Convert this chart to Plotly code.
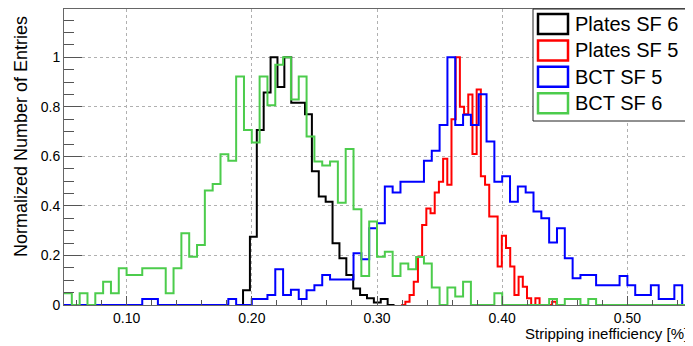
import numpy as np
import plotly.graph_objects as go

# x axis: stripping inefficiency [%], y: normalized entries
# each histogram: first bin low edge, bin width, normalized bin contents
plates_sf6_start = 0.1875
plates_sf6_width = 0.0055
plates_sf6 = [0, 0.06, 0.276, 0.707, 0.858, 1.0, 0.88, 1.0, 0.817, 0.817, 0.77,
              0.54, 0.438, 0.417, 0.249, 0.189, 0.121, 0.067, 0.04, 0.027, 0.01,
              0.024, 0]

plates_sf5_start = 0.3193
plates_sf5_width = 0.00335
plates_sf5 = [0, 0.013, 0.04, 0.094, 0.195, 0.323, 0.39, 0.37, 0.454, 0.498,
              0.59, 0.485, 0.75, 1.0, 0.80, 0.77, 0.85, 0.61, 0.87, 0.52, 0.485,
              0.357, 0.357, 0.155, 0.28, 0.23, 0.155, 0.04, 0.114, 0.074, 0.027,
              0, 0.027, 0, 0, 0, 0.013, 0]

bct_start = 0.05
bct_width = 0.00625
bct_sf5 = [0, 0, 0, 0, 0, 0, 0, 0, 0, 0,
           0.024, 0.024, 0, 0, 0, 0, 0, 0, 0, 0,
           0, 0.024, 0, 0, 0.024, 0.024, 0.04, 0.144, 0.04, 0.062,
           0.024, 0.06, 0.08, 0.121, 0.103, 0.103, 0.103, 0.209, 0.185, 0.31,
           0.33, 0.478, 0.454, 0.498, 0.498, 0.498, 0.582, 0.623, 0.727, 1.0,
           0.727, 0.768, 0.727, 0.851, 0.66, 0.498, 0.52, 0.417, 0.478, 0.454,
           0.377, 0.35, 0.252, 0.31, 0.189, 0.108, 0.121, 0.121, 0.08, 0.08,
           0.08, 0.117, 0.08, 0.04, 0.04, 0.08, 0.024, 0.024, 0.08, 0]
bct_sf6 = [0.047, 0, 0.047, 0, 0.047, 0.094, 0.047, 0.148, 0.121, 0.121,
           0.148, 0.148, 0.148, 0.047, 0.148, 0.29, 0.195, 0.242, 0.462, 0.489,
           0.609, 0.582, 0.922, 0.707, 0.656, 0.922, 0.806, 0.97, 1.0, 0.83,
           0.922, 0.68, 0.579, 0.563, 0.579, 0.413, 0.63, 0.387, 0.117, 0.337,
           0.195, 0.215, 0.117, 0.168, 0.144, 0.194, 0.168, 0.071, 0, 0.071,
           0.034, 0.094, 0, 0, 0, 0.047, 0, 0, 0, 0,
           0, 0, 0.024, 0, 0.024, 0.024, 0, 0.024, 0, 0,
           0, 0, 0, 0, 0, 0, 0, 0, 0, 0]

series = [
    ("Plates SF 6", plates_sf6_start, plates_sf6_width, plates_sf6, "#000000"),
    ("Plates SF 5", plates_sf5_start, plates_sf5_width, plates_sf5, "#ff0000"),
    ("BCT SF 5", bct_start, bct_width, bct_sf5, "#0000ff"),
    ("BCT SF 6", bct_start, bct_width, bct_sf6, "#4ccc4c"),
]

# the page body has an 8px margin, so the figure is a bit smaller than the window
OFF = 8
W, H = 693 - OFF, 346 - OFF
L, R, T, B = 64 - OFF, 3, 9 - OFF, 41
FONT = "Liberation Sans, Arial, sans-serif"


def px(x, y):
    # window pixel position -> paper coords (for the hand-made legend box)
    return (x - OFF - L) / (W - L - R), (H - B - (y - OFF)) / (H - T - B)


fig = go.Figure()
for name, start, width, vals, color in series:
    edges = start + width * np.arange(len(vals) + 1)
    fig.add_trace(go.Scatter(
        x=edges, y=list(vals) + [vals[-1]], name=name, mode="lines",
        line=dict(color=color, width=2, shape="hv"), showlegend=False,
    ))

# ROOT style legend: hollow boxes + labels
x0, y0 = px(533, 9)
x1, y1 = px(690, 121)
fig.add_shape(type="rect", xref="paper", yref="paper", x0=x0, y0=y1, x1=x1, y1=y0,
              line=dict(color="#222", width=1), fillcolor="white", layer="above")
for i, (name, _, _, _, color) in enumerate(series):
    top = 14 + i * 26.4
    bx0, by0 = px(538, top)
    bx1, by1 = px(568, top + 20)
    fig.add_shape(type="rect", xref="paper", yref="paper", x0=bx0, y0=by1, x1=bx1, y1=by0,
                  line=dict(color=color, width=2.5), fillcolor="rgba(0,0,0,0)", layer="above")
    tx, ty = px(573, top + 10)
    fig.add_annotation(text=name, xref="paper", yref="paper", x=tx, y=ty,
                       xanchor="left", yanchor="middle", showarrow=False,
                       font=dict(family=FONT, size=20, color="black"))

# ROOT puts the axis titles at the far end of each axis
fig.add_annotation(text="Stripping inefficiency [%]", xref="paper", yref="paper",
                   x=px(690, 0)[0], y=px(0, 333)[1], xanchor="right", yanchor="middle",
                   showarrow=False, font=dict(family=FONT, size=15, color="black"))
fig.add_annotation(text="Normalized Number of Entries", xref="paper", yref="paper",
                   x=px(21, 0)[0], y=px(0, 137)[1], xanchor="center", yanchor="middle",
                   textangle=-90, showarrow=False,
                   font=dict(family=FONT, size=18, color="black"))

fig.update_layout(
    width=W, height=H,
    margin=dict(l=L, r=R, t=T, b=B, autoexpand=False),
    paper_bgcolor="white", plot_bgcolor="white",
    font=dict(family=FONT, color="black"),
)
fig.update_xaxes(
    range=[0.05, 0.55], dtick=0.1, tick0=0.1, tickformat=".2f",
    ticks="inside", ticklen=9, tickcolor="#555", tickfont=dict(size=14),
    minor=dict(dtick=0.02, ticks="inside", ticklen=5, tickcolor="#555"),
    showgrid=True, gridcolor="#b0b0b0", griddash="dot", gridwidth=1,
    showline=True, linecolor="#666", linewidth=1, mirror=True, zeroline=False,
    automargin=False,
)
fig.update_yaxes(
    range=[0, 1.195], dtick=0.2, tick0=0,
    ticks="inside", ticklen=18, tickcolor="#555", tickfont=dict(size=14),
    minor=dict(dtick=0.05, ticks="inside", ticklen=10, tickcolor="#555"),
    showgrid=True, gridcolor="#b0b0b0", griddash="dot", gridwidth=1,
    showline=True, linecolor="#666", linewidth=1, mirror=True, zeroline=False,
    automargin=False,
)

fig.write_html("out.html")
